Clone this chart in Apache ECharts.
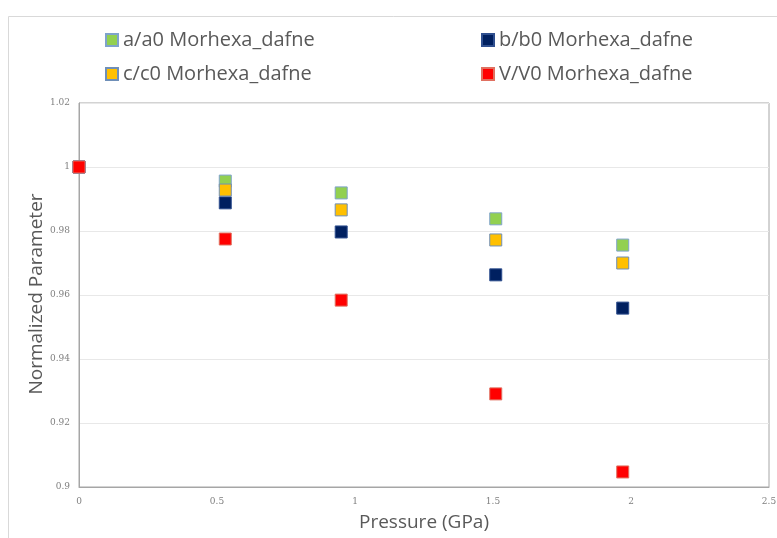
<!DOCTYPE html>
<html>
<head>
<meta charset="utf-8">
<script src="https://cdn.jsdelivr.net/npm/echarts@6/dist/echarts.min.js"></script>
<style>html,body{margin:0;padding:0;background:#fff;}#c{width:777px;height:538px;}</style>
</head>
<body>
<div id="c"></div>
<script>
const pressure = [0, 0.53, 0.95, 1.51, 1.97];
const aRatio = [1, 0.9956, 0.9919, 0.9838, 0.9756];
const bRatio = [1, 0.9888, 0.9797, 0.9663, 0.9559];
const cRatio = [1, 0.9928, 0.9866, 0.9772, 0.9700];
const vRatio = [1, 0.9775, 0.9584, 0.9291, 0.9047];
const seriesNames = ['a/a0 Morhexa_dafne', 'b/b0 Morhexa_dafne', 'c/c0 Morhexa_dafne', 'V/V0 Morhexa_dafne'];
const seriesValues = [aRatio, bRatio, cRatio, vRatio];
const xTitle = 'Pressure (GPa)';
const yTitle = 'Normalized Parameter';
const colors = ['#92D050', '#002060', '#FFC000', '#FF0000'];
const borders = ['#7FA3CC', '#2F4F8F', '#6F8FB8', '#E07060'];

const chart = echarts.init(document.getElementById('c'));
const titleFont = "'Liberation Sans Narrow', 'Open Sans', sans-serif";
const legendFont = {fontFamily: titleFont, fontSize: 20, color: '#595959'};
const legendPos = [[105, 30], [481, 30], [105, 64], [481, 64]];
const legends = seriesNames.map((n, i) => ({
  data: [n], left: legendPos[i][0], top: legendPos[i][1], itemWidth: 12, itemHeight: 12, itemGap: 5,
  icon: 'rect', textStyle: legendFont, padding: 0
}));
const series = seriesNames.map((n, i) => ({
  name: n, type: 'scatter', symbol: 'rect', symbolSize: 12,
  data: pressure.map((p, k) => [p, seriesValues[i][k]]),
  itemStyle: {color: colors[i], borderColor: borders[i], borderWidth: 1, opacity: 1},
  z: 2 + i
}));
chart.setOption({
  animation: false,
  backgroundColor: '#fff',
  graphic: [
    {type: 'rect', shape: {x: 8.5, y: 16.5, width: 800, height: 600}, style: {fill: 'none', stroke: '#d9d9d9', lineWidth: 1}, silent: true},
    {type: 'text', x: 424, y: 523, style: {text: xTitle, font: '19px ' + titleFont, fill: '#595959', align: 'center', verticalAlign: 'middle'}, silent: true},
    {type: 'text', x: 37, y: 294, rotation: Math.PI / 2, style: {text: yTitle, font: '19px ' + titleFont, fill: '#595959', align: 'center', verticalAlign: 'middle'}, silent: true}
  ],
  legend: legends,
  grid: {left: 79, right: 8, top: 103, bottom: 51, show: true, borderColor: '#a6a6a6', borderWidth: 1, containLabel: false, outerBoundsMode: 'none'},
  xAxis: {
    type: 'value', min: 0, max: 2.5, interval: 0.5,
    axisLine: {show: true, lineStyle: {color: '#a6a6a6'}}, axisTick: {show: false},
    splitLine: {show: false},
    axisLabel: {fontFamily: "'DejaVu Serif', serif", fontSize: 9, color: '#7f7f7f', margin: 10}
  },
  yAxis: {
    type: 'value', min: 0.9, max: 1.02, interval: 0.02,
    axisLine: {show: true, lineStyle: {color: '#a6a6a6'}}, axisTick: {show: false},
    splitLine: {show: true, lineStyle: {color: '#e8e8e8'}},
    axisLabel: {fontFamily: "'DejaVu Serif', serif", fontSize: 9, color: '#7f7f7f', margin: 9}
  },
  series: series
});
</script>
</body>
</html>
